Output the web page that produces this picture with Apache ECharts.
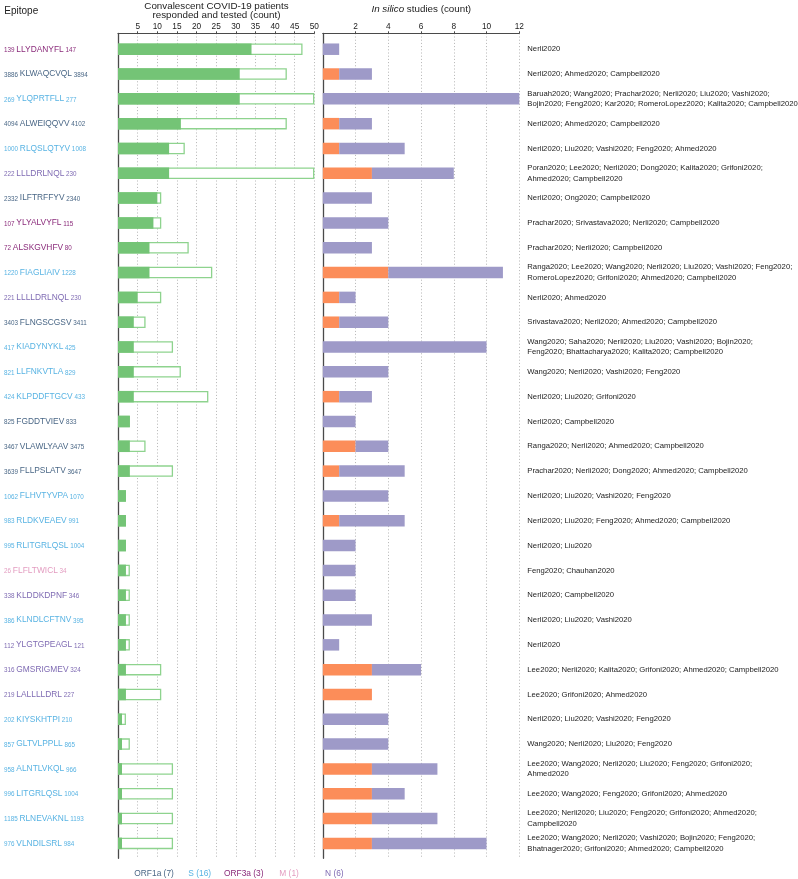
<!DOCTYPE html>
<html><head><meta charset="utf-8">
<script src="https://cdn.jsdelivr.net/npm/echarts@6/dist/echarts.min.js"></script>
<style>html,body{margin:0;padding:0;background:#fff}#c{width:798px;height:879px}</style>
</head><body><div id="c"></div>
<script>
const epitopes = ['LLYDANYFL','KLWAQCVQL','YLQPRTFLL','ALWEIQQVV','RLQSLQTYV','LLLDRLNQL','ILFTRFFYV','YLYALVYFL','ALSKGVHFV','FIAGLIAIV','LLLLDRLNQL','FLNGSCGSV','KIADYNYKL','LLFNKVTLA','KLPDDFTGCV','FGDDTVIEV','VLAWLYAAV','FLLPSLATV','FLHVTYVPA','RLDKVEAEV','RLITGRLQSL','FLFLTWICL','KLDDKDPNF','KLNDLCFTNV','YLGTGPEAGL','GMSRIGMEV','LALLLLDRL','KIYSKHTPI','GLTVLPPLL','ALNTLVKQL','LITGRLQSL','RLNEVAKNL','VLNDILSRL'];
const startPos = [139,3886,269,4094,1000,222,2332,107,72,1220,221,3403,417,821,424,825,3467,3639,1062,983,995,26,338,386,112,316,219,202,857,958,996,1185,976];
const endPos = [147,3894,277,4102,1008,230,2340,115,80,1228,230,3411,425,829,433,833,3475,3647,1070,991,1004,34,346,395,121,324,227,210,865,966,1004,1193,984];
const proteins = ['ORF3a','ORF1a','S','ORF1a','S','N','ORF1a','ORF3a','ORF3a','S','N','ORF1a','S','S','S','ORF1a','ORF1a','ORF1a','S','S','S','M','N','S','N','N','N','S','S','S','S','S','S'];
const tested = [47,43,50,43,17,50,11,11,18,24,11,7,14,16,23,3,7,14,2,2,2,3,3,3,3,11,11,2,3,14,14,14,14];
const responded = [34,31,31,16,13,13,10,9,8,8,5,4,4,4,4,3,3,3,2,2,2,2,2,2,2,2,2,1,1,1,1,1,1];
const inSilicoOrange = [0,1,0,1,1,3,0,0,0,4,1,1,0,0,1,0,2,1,0,1,0,0,0,0,0,3,3,0,0,3,3,3,3];
const inSilicoPurple = [1,2,12,2,4,5,3,4,3,7,1,3,10,4,2,2,2,4,4,4,2,2,2,3,1,3,0,4,4,4,2,4,7];
const studies = [
 'Nerli2020',
 'Nerli2020; Ahmed2020; Campbell2020',
 'Baruah2020; Wang2020; Prachar2020; Nerli2020; Liu2020; Vashi2020;\nBojin2020; Feng2020; Kar2020; RomeroLopez2020; Kalita2020; Campbell2020',
 'Nerli2020; Ahmed2020; Campbell2020',
 'Nerli2020; Liu2020; Vashi2020; Feng2020; Ahmed2020',
 'Poran2020; Lee2020; Nerli2020; Dong2020; Kalita2020; Grifoni2020;\nAhmed2020; Campbell2020',
 'Nerli2020; Ong2020; Campbell2020',
 'Prachar2020; Srivastava2020; Nerli2020; Campbell2020',
 'Prachar2020; Nerli2020; Campbell2020',
 'Ranga2020; Lee2020; Wang2020; Nerli2020; Liu2020; Vashi2020; Feng2020;\nRomeroLopez2020; Grifoni2020; Ahmed2020; Campbell2020',
 'Nerli2020; Ahmed2020',
 'Srivastava2020; Nerli2020; Ahmed2020; Campbell2020',
 'Wang2020; Saha2020; Nerli2020; Liu2020; Vashi2020; Bojin2020;\nFeng2020; Bhattacharya2020; Kalita2020; Campbell2020',
 'Wang2020; Nerli2020; Vashi2020; Feng2020',
 'Nerli2020; Liu2020; Grifoni2020',
 'Nerli2020; Campbell2020',
 'Ranga2020; Nerli2020; Ahmed2020; Campbell2020',
 'Prachar2020; Nerli2020; Dong2020; Ahmed2020; Campbell2020',
 'Nerli2020; Liu2020; Vashi2020; Feng2020',
 'Nerli2020; Liu2020; Feng2020; Ahmed2020; Campbell2020',
 'Nerli2020; Liu2020',
 'Feng2020; Chauhan2020',
 'Nerli2020; Campbell2020',
 'Nerli2020; Liu2020; Vashi2020',
 'Nerli2020',
 'Lee2020; Nerli2020; Kalita2020; Grifoni2020; Ahmed2020; Campbell2020',
 'Lee2020; Grifoni2020; Ahmed2020',
 'Nerli2020; Liu2020; Vashi2020; Feng2020',
 'Wang2020; Nerli2020; Liu2020; Feng2020',
 'Lee2020; Wang2020; Nerli2020; Liu2020; Feng2020; Grifoni2020;\nAhmed2020',
 'Lee2020; Wang2020; Feng2020; Grifoni2020; Ahmed2020',
 'Lee2020; Nerli2020; Liu2020; Feng2020; Grifoni2020; Ahmed2020;\nCampbell2020',
 'Lee2020; Wang2020; Nerli2020; Vashi2020; Bojin2020; Feng2020;\nBhatnager2020; Grifoni2020; Ahmed2020; Campbell2020'
];
const proteinOrder = ['ORF1a','S','ORF3a','M','N'];
const proteinColors = {ORF1a:'#4a6786', S:'#58b3e3', ORF3a:'#8b2c7b', M:'#e39cc0', N:'#7f6bb3'};

const FONT = '"Liberation Sans", Arial, Helvetica, sans-serif';
const rich = {};
proteinOrder.forEach(p => {
  rich['n' + p] = {fontSize: 6.3, color: proteinColors[p], fontFamily: FONT, verticalAlign: 'bottom'};
  rich['e' + p] = {fontSize: 8.4, color: proteinColors[p], fontFamily: FONT, verticalAlign: 'bottom'};
});
const counts = proteinOrder.map(p => proteins.filter(q => q === p).length);
const legendX = [134.3, 188.3, 224, 279.3, 325];

const dotted = {show: true, lineStyle: {type: [1, 2.2], color: '#b4b4b4', width: 1}};
const axisCol = '#4a4a4a';
function decorX(grid, max, interval) {
  return {gridIndex: grid, type: 'value', position: 'top', min: 0, max: max, interval: interval,
    axisLine: {show: true, onZero: false, lineStyle: {color: axisCol, width: 1}},
    axisTick: {show: true, length: 2, lineStyle: {color: axisCol}},
    axisLabel: {showMinLabel: false, fontSize: 8.3, color: '#222', margin: 3, fontFamily: FONT},
    splitLine: dotted};
}
function decorY(grid) {
  return {gridIndex: grid, type: 'value', min: 0, max: 1,
    axisLine: {show: true, onZero: false, lineStyle: {color: axisCol, width: 1.3}},
    axisTick: {show: false}, axisLabel: {show: false}, splitLine: {show: false}};
}
const hiddenCat = (grid, data) => ({gridIndex: grid, type: 'category', inverse: true, data: data,
  axisLine: {show: false}, axisTick: {show: false}, axisLabel: {show: false}, splitLine: {show: false}});

const option = {
  animation: false,
  backgroundColor: '#fff',
  textStyle: {fontFamily: FONT},
  grid: [
    {left: 118.1, top: 33.3, width: 196.2, height: 825, outerBoundsMode: 'none'},
    {left: 118.1, top: 36.8, width: 196.2, height: 819, outerBoundsMode: 'none'},
    {left: 322.8, top: 33.3, width: 196.5, height: 825, outerBoundsMode: 'none'},
    {left: 322.8, top: 36.8, width: 196.5, height: 819, outerBoundsMode: 'none'}
  ],
  xAxis: [
    decorX(0, 50, 5),
    {gridIndex: 1, type: 'value', min: 0, max: 50, show: false},
    decorX(2, 12, 2),
    {gridIndex: 3, type: 'value', min: 0, max: 12, show: false}
  ],
  yAxis: [
    decorY(0),
    {gridIndex: 1, type: 'category', inverse: true, data: epitopes,
      axisLine: {show: false}, axisTick: {show: false}, splitLine: {show: false},
      axisLabel: {interval: 0, align: 'left', margin: 114, rich: rich,
        formatter: (val, idx) => {
          const p = proteins[idx];
          return '{n' + p + '|' + startPos[idx] + ' }{e' + p + '|' + val + '}{n' + p + '| ' + endPos[idx] + '}';
        }}},
    decorY(2),
    hiddenCat(3, epitopes),
    {gridIndex: 3, type: 'category', inverse: true, position: 'right', data: studies,
      axisLine: {show: false}, axisTick: {show: false}, splitLine: {show: false},
      axisLabel: {interval: 0, align: 'left', margin: 8, fontSize: 7.7, lineHeight: 10.7, color: '#222', fontFamily: FONT}}
  ],
  series: [
    {type: 'bar', xAxisIndex: 1, yAxisIndex: 1, data: tested, barWidth: 11.5, barGap: '-100%',
      itemStyle: {color: '#ffffff', borderColor: '#8ed38e', borderWidth: 1.3}},
    {type: 'bar', xAxisIndex: 1, yAxisIndex: 1, data: responded, barWidth: 11.5, barGap: '-100%',
      itemStyle: {color: '#74c476'}},
    {type: 'bar', xAxisIndex: 3, yAxisIndex: 3, stack: 'insilico', data: inSilicoOrange, barWidth: 11.5,
      itemStyle: {color: '#fc8d59'}},
    {type: 'bar', xAxisIndex: 3, yAxisIndex: 3, stack: 'insilico', data: inSilicoPurple, barWidth: 11.5,
      itemStyle: {color: '#9e9ac8'}}
  ],
  graphic: [
    {type: 'text', x: 4.3, y: 11, style: {text: 'Epitope', fontSize: 10, fontFamily: FONT, fill: '#222', verticalAlign: 'middle'}},
    {type: 'text', x: 216.5, y: 6, style: {text: 'Convalescent COVID-19 patients', fontSize: 9.8, fontFamily: FONT, fill: '#222', align: 'center', verticalAlign: 'middle'}},
    {type: 'text', x: 216.5, y: 15.7, style: {text: 'responded and tested (count)', fontSize: 9.8, fontFamily: FONT, fill: '#222', align: 'center', verticalAlign: 'middle'}},
    {type: 'text', x: 421.3, y: 9.3, style: {text: '{i|In silico} studies (count)', fontSize: 9.8, fontFamily: FONT, fill: '#222', align: 'center', verticalAlign: 'middle',
      rich: {i: {fontStyle: 'italic', fontSize: 9.8, fontFamily: FONT, fill: '#222'}}}}
  ].concat(proteinOrder.map((p, i) => ({type: 'text', x: legendX[i], y: 873.3,
    style: {text: p + ' (' + counts[i] + ')', fontSize: 8.4, fontFamily: FONT, fill: proteinColors[p], verticalAlign: 'middle'}})))
};
const chart = echarts.init(document.getElementById('c'), null, {renderer: 'canvas', width: 798, height: 879});
chart.setOption(option);
</script></body></html>
